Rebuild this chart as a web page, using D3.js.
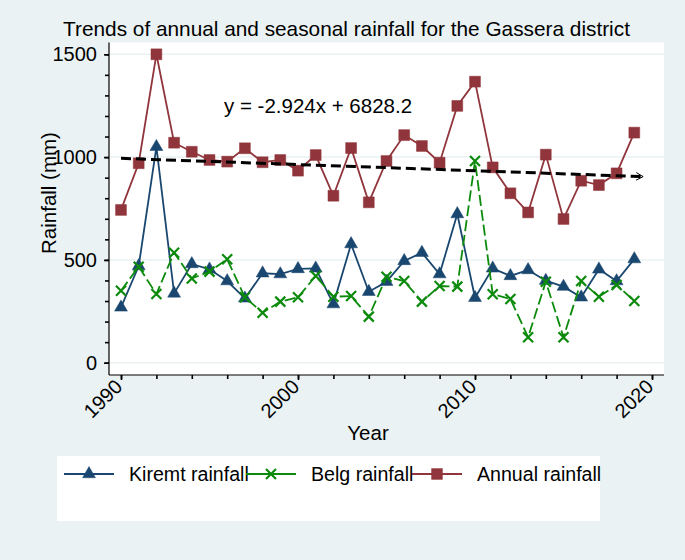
<!DOCTYPE html>
<html>
<head>
<meta charset="utf-8">
<script src="https://cdn.jsdelivr.net/npm/d3@7"></script>
<style>
  body { margin: 0; background: #eaf2f3; }
  svg { display: block; font-family: "Liberation Sans", Arial, sans-serif; }
</style>
</head>
<body>
<svg id="chart"></svg>
<script>
// ---- data ----
const years = [1990, 1991, 1992, 1993, 1994, 1995, 1996, 1997, 1998, 1999,
               2000, 2001, 2002, 2003, 2004, 2005, 2006, 2007, 2008, 2009,
               2010, 2011, 2012, 2013, 2014, 2015, 2016, 2017, 2018, 2019];
const kiremt = [269, 470, 1050, 337, 480, 454, 397, 313, 435, 431,
                456, 459, 285, 577, 345, 394, 495, 535, 431, 723,
                316, 459, 422, 451, 399, 370, 318, 454, 397, 504];
const belg = [350, 467, 334, 535, 410, 443, 503, 318, 243, 297,
              318, 422, 321, 324, 224, 418, 397, 297, 373, 370,
              981, 333, 310, 124, 394, 124, 397, 321, 378, 300];
const annual = [743, 970, 1500, 1070, 1026, 986, 978, 1043, 975, 986,
                934, 1010, 812, 1044, 780, 981, 1107, 1054, 973, 1249,
                1367, 950, 824, 731, 1012, 699, 885, 864, 921, 1119];
const trendYears = [1990, 2019.5];
const trendValues = [994, 905];
const yMajorTicks = [0, 500, 1000, 1500];
const xMajorTicks = [1990, 2000, 2010, 2020];
const seriesNames = ['Kiremt rainfall', 'Belg rainfall', 'Annual rainfall'];

const config = {
  width: 685,
  height: 560,
  plot: {left: 109, right: 664, top: 42.5, bottom: 375},
  bg: '#eaf2f3',
  colors: {kiremt: '#1a476f', belg: '#0c8a0c', annual: '#90353b'}
};

const svg = d3.select('#chart')
  .attr('width', config.width)
  .attr('height', config.height);

svg.append('rect')
  .attr('width', config.width)
  .attr('height', config.height)
  .attr('fill', config.bg);

// plot region
const p = config.plot;
svg.append('rect')
  .attr('x', p.left)
  .attr('y', p.top)
  .attr('width', p.right - p.left)
  .attr('height', p.bottom - p.top)
  .attr('fill', '#fff');

const xScale = d3.scaleLinear().domain([1990, 2020]).range([121, 652]);
const yScale = d3.scaleLinear().domain([0, 1500]).range([362.7, 54.3]);

// grid lines
svg.append('g')
  .selectAll('line')
  .data(yMajorTicks)
  .join('line')
  .attr('x1', p.left).attr('x2', p.right)
  .attr('y1', d => yScale(d)).attr('y2', d => yScale(d))
  .attr('stroke', config.bg)
  .attr('stroke-width', 1.5);

// y axis: major + minor ticks
const yMinor = svg.append('g')
  .attr('transform', `translate(${p.left},0)`)
  .call(d3.axisLeft(yScale).tickValues(d3.range(0, 1501, 100)).tickSize(4).tickFormat(''));
yMinor.select('.domain').remove();

const yAxis = svg.append('g')
  .attr('transform', `translate(${p.left},0)`)
  .call(d3.axisLeft(yScale).tickValues(yMajorTicks).tickSize(5).tickPadding(7).tickFormat(d3.format('d')));
yAxis.select('.domain').remove();
yAxis.selectAll('text')
  .attr('font-size', '20px')
  .attr('font-family', '"Liberation Sans", Arial, sans-serif')
  .attr('fill', '#000');

// x axis: major + minor ticks
const xMinor = svg.append('g')
  .attr('transform', `translate(0,${p.bottom})`)
  .call(d3.axisBottom(xScale).tickValues(d3.range(1990, 2021, 2)).tickSize(4).tickFormat(''));
xMinor.select('.domain').remove();

const xAxis = svg.append('g')
  .attr('transform', `translate(0,${p.bottom})`)
  .call(d3.axisBottom(xScale).tickValues(xMajorTicks).tickSize(5).tickFormat(d3.format('d')));
xAxis.select('.domain').remove();
xAxis.selectAll('text')
  .attr('font-size', '20px')
  .attr('font-family', '"Liberation Sans", Arial, sans-serif')
  .attr('fill', '#000')
  .attr('text-anchor', 'end')
  .attr('dy', '0.35em')
  .attr('transform', 'translate(2,3) rotate(-45)')
  .attr('y', 0)
  .attr('x', -7);

svg.selectAll('.tick line').attr('stroke', '#000').attr('stroke-width', 1.6);

// axis lines
svg.append('line')
  .attr('x1', p.left).attr('x2', p.left)
  .attr('y1', p.top).attr('y2', p.bottom)
  .attr('stroke', '#000').attr('stroke-width', 1.2);
svg.append('line')
  .attr('x1', p.left).attr('x2', p.right)
  .attr('y1', p.bottom).attr('y2', p.bottom)
  .attr('stroke', '#000').attr('stroke-width', 1.2);

// series
const line = d3.line()
  .x((d, i) => xScale(years[i]))
  .y(d => yScale(d));

const triangle = d3.symbol().type(d3.symbolTriangle).size(72);
const square = d3.symbol().type(d3.symbolSquare).size(118);
const cross = 'M-5,-5L5,5M-5,5L5,-5';

function drawSeries(values, color, dash, marker) {
  svg.append('path')
    .datum(values)
    .attr('d', line)
    .attr('fill', 'none')
    .attr('stroke', color)
    .attr('stroke-width', 1.8)
    .attr('stroke-dasharray', dash);

  const g = svg.append('g');
  g.selectAll('path')
    .data(values)
    .join('path')
    .attr('transform', (d, i) => `translate(${xScale(years[i])},${yScale(d)})`)
    .attr('d', marker.path)
    .attr('fill', marker.filled ? color : 'none')
    .attr('stroke', color)
    .attr('stroke-width', marker.filled ? 0.5 : 2.2);
}

drawSeries(kiremt, config.colors.kiremt, null, {path: triangle(), filled: true});
drawSeries(belg, config.colors.belg, '11,4', {path: cross, filled: false});
drawSeries(annual, config.colors.annual, null, {path: square(), filled: true});

// trend line with open arrow head
const tx1 = xScale(trendYears[0]), ty1 = yScale(trendValues[0]);
const tx2 = xScale(trendYears[1]), ty2 = yScale(trendValues[1]);
svg.append('line')
  .attr('x1', tx1).attr('y1', ty1)
  .attr('x2', tx2).attr('y2', ty2)
  .attr('stroke', '#000')
  .attr('stroke-width', 3)
  .attr('stroke-dasharray', '10,5');
const ang = Math.atan2(ty2 - ty1, tx2 - tx1);
const ah = 8;
svg.append('path')
  .attr('d', `M${tx2 - ah * Math.cos(ang - 0.5)},${ty2 - ah * Math.sin(ang - 0.5)}` +
             `L${tx2},${ty2}` +
             `L${tx2 - ah * Math.cos(ang + 0.5)},${ty2 - ah * Math.sin(ang + 0.5)}`)
  .attr('fill', 'none')
  .attr('stroke', '#000')
  .attr('stroke-width', 1);

// equation label
svg.append('text')
  .attr('x', 224).attr('y', 113)
  .attr('font-size', '20.5px')
  .text('y = -2.924x + 6828.2');

// title and axis labels
svg.append('text')
  .attr('x', 346.5).attr('y', 36)
  .attr('text-anchor', 'middle')
  .attr('font-size', '20.8px')
  .text('Trends of annual and seasonal rainfall for the Gassera district');

svg.append('text')
  .attr('x', 368).attr('y', 439.5)
  .attr('text-anchor', 'middle')
  .attr('font-size', '20.5px')
  .text('Year');

svg.append('text')
  .attr('transform', 'translate(56,193) rotate(-90)')
  .attr('text-anchor', 'middle')
  .attr('font-size', '20.5px')
  .text('Rainfall (mm)');

// legend
const legend = svg.append('g');
legend.append('rect')
  .attr('x', 57).attr('y', 456)
  .attr('width', 543).attr('height', 65)
  .attr('fill', '#fff');

const legendItems = [
  {name: seriesNames[0], color: config.colors.kiremt, x: 64, marker: {path: triangle(), filled: true}},
  {name: seriesNames[1], color: config.colors.belg, x: 246, marker: {path: cross, filled: false}},
  {name: seriesNames[2], color: config.colors.annual, x: 412, marker: {path: square(), filled: true}}
];
const ly = 474;
legendItems.forEach(item => {
  legend.append('line')
    .attr('x1', item.x).attr('x2', item.x + 50)
    .attr('y1', ly).attr('y2', ly)
    .attr('stroke', item.color)
    .attr('stroke-width', 2);
  legend.append('path')
    .attr('transform', `translate(${item.x + 25},${ly})`)
    .attr('d', item.marker.path)
    .attr('fill', item.marker.filled ? item.color : 'none')
    .attr('stroke', item.color)
    .attr('stroke-width', item.marker.filled ? 0.5 : 2.2);
  legend.append('text')
    .attr('x', item.x + 65).attr('y', ly + 7)
    .attr('font-size', '19.6px')
    .text(item.name);
});
</script>
</body>
</html>
